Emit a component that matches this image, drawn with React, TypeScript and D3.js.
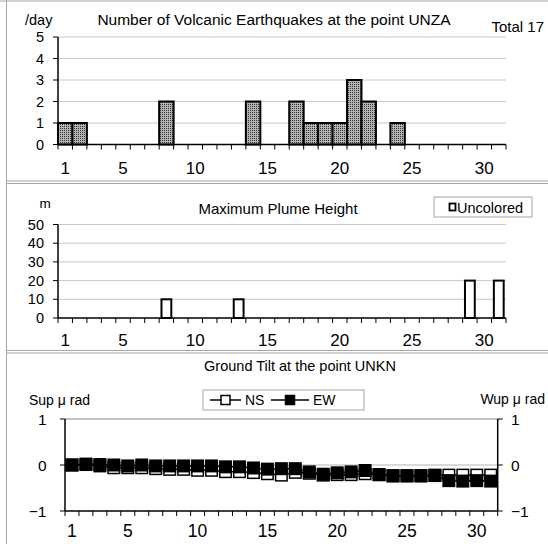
import React from "react";
import * as d3 from "d3";

const days: number[] = d3.range(1, 32);
const xTickLabels: number[] = [1, 5, 10, 15, 20, 25, 30];

const quakeCounts: number[] = [1, 1, 0, 0, 0, 0, 0, 2, 0, 0, 0, 0, 0, 2, 0, 0, 2, 1, 1, 1, 3, 2, 0, 1, 0, 0, 0, 0, 0, 0, 0];
const quakeTicks: number[] = [0, 1, 2, 3, 4, 5];

const plumeHeights: (number | null)[] = [null, null, null, null, null, null, null, 10, null, null, null, null, 10, null, null, null, null, null, null, null, null, null, null, null, null, null, null, null, 20, null, 20];
const plumeTicks: number[] = [0, 10, 20, 30, 40, 50];

const tiltNS: number[] = [0, 0.01, -0.02, -0.06, -0.06, -0.06, -0.08, -0.095, -0.095, -0.115, -0.115, -0.145, -0.145, -0.165, -0.19, -0.22, -0.16, -0.18, -0.22, -0.21, -0.21, -0.19, -0.21, -0.23, -0.23, -0.23, -0.22, -0.22, -0.22, -0.22, -0.22];
const tiltEW: number[] = [0, 0.02, 0.01, 0, -0.02, 0, -0.02, -0.02, -0.02, -0.02, -0.02, -0.04, -0.04, -0.065, -0.09, -0.08, -0.08, -0.15, -0.2, -0.17, -0.15, -0.12, -0.21, -0.24, -0.24, -0.24, -0.23, -0.34, -0.35, -0.34, -0.35];
const tiltTicks: number[] = [-1, 0, 1];

const FONT = "'Liberation Sans', Arial, sans-serif";
const FRAME = "#a6a6a6";
const GRID = "#c8c8c8";

function fmt(v: number) {
  return v < 0 ? "\u2212" + Math.abs(v) : String(v);
}

export default function App() {
  // Top panel
  const xTop = d3.scaleBand<number>().domain(days).range([58, 506]).padding(0);
  const yTop = d3.scaleLinear().domain([0, 5]).range([144.5, 37]);
  // Middle panel
  const xMid = d3.scaleBand<number>().domain(days).range([58, 506]).padding(0);
  const yMid = d3.scaleLinear().domain([0, 50]).range([318, 224.5]);
  // Bottom panel
  const xBot = d3.scaleBand<number>().domain(days).range([65, 497.7]).padding(0);
  const yBot = d3.scaleLinear().domain([-1, 1]).range([511, 419]);

  const bwTop = xTop.bandwidth();
  const bwMid = xMid.bandwidth();
  const bwBot = xBot.bandwidth();

  const lineTilt = d3
    .line<number>()
    .x((_, i) => (xBot(days[i]) as number) + bwBot / 2)
    .y((d) => yBot(d));

  const msz = 11.5;

  const boundaries = (sc: d3.ScaleBand<number>) =>
    d3.range(0, days.length + 1).map((i) => sc.range()[0] + i * sc.step());

  return (
    <svg width={548} height={544} style={{ position: "absolute", left: 0, top: 0 }} fontFamily={FONT}>
      <defs>
        <pattern id="dots" width={2} height={2} patternUnits="userSpaceOnUse">
          <rect width={2} height={2} fill="#b4b4b4" />
          <rect width={1} height={1} fill="#333" />
        </pattern>
      </defs>
      <rect x={0} y={0} width={548} height={544} fill="#fff" />
      {/* frame */}
      <line x1={0} x2={548} y1={1} y2={1} stroke={FRAME} strokeWidth={1} />
      <line x1={6.5} x2={6.5} y1={0} y2={544} stroke={FRAME} strokeWidth={1} />
      <line x1={6} x2={548} y1={181} y2={181} stroke={FRAME} strokeWidth={1} />
      <line x1={6} x2={548} y1={183.5} y2={183.5} stroke={FRAME} strokeWidth={1} />
      <line x1={6} x2={548} y1={350.5} y2={350.5} stroke={FRAME} strokeWidth={1} />
      <line x1={6} x2={548} y1={353} y2={353} stroke={FRAME} strokeWidth={1} />

      {/* ===== TOP PANEL ===== */}
      <text x={25} y={20} fontSize={14.5} dominantBaseline="central">/day</text>
      <text x={274} y={19} fontSize={15.5} textAnchor="middle" dominantBaseline="central">
        Number of Volcanic Earthquakes at the point UNZA
      </text>
      <text x={544} y={26} fontSize={15} textAnchor="end" dominantBaseline="central">Total 17</text>
      {quakeTicks.slice(1).map((t) => (
        <line key={"tg" + t} x1={58} x2={506} y1={yTop(t)} y2={yTop(t)} stroke={GRID} strokeWidth={1} />
      ))}
      {quakeTicks.map((t) => (
        <g key={"tt" + t}>
          <line x1={53} x2={58} y1={yTop(t)} y2={yTop(t)} stroke="#000" strokeWidth={1} />
          <text x={44} y={yTop(t)} fontSize={14.5} textAnchor="end" dominantBaseline="central">{t}</text>
        </g>
      ))}
      {quakeCounts.map((v, i) =>
        v > 0 ? (
          <rect
            key={"qb" + i}
            x={xTop(days[i]) as number}
            y={yTop(v)}
            width={bwTop}
            height={yTop(0) - yTop(v)}
            fill="url(#dots)"
            stroke="#000"
            strokeWidth={2}
          />
        ) : null
      )}
      <line x1={58} x2={58} y1={yTop(5)} y2={yTop(0)} stroke="#000" strokeWidth={1.5} />
      <line x1={58} x2={506} y1={yTop(0)} y2={yTop(0)} stroke="#000" strokeWidth={1.5} />
      {boundaries(xTop).map((x, i) => (
        <line key={"tx" + i} x1={x} x2={x} y1={yTop(0)} y2={yTop(0) + 5} stroke="#000" strokeWidth={1} />
      ))}
      {xTickLabels.map((d) => (
        <text key={"tl" + d} x={(xTop(d) as number) + bwTop / 2} y={168} fontSize={17} textAnchor="middle" dominantBaseline="central">
          {d}
        </text>
      ))}

      {/* ===== MIDDLE PANEL ===== */}
      <text x={45} y={203} fontSize={13.5} textAnchor="middle" dominantBaseline="central">m</text>
      <text x={278} y={208} fontSize={15} textAnchor="middle" dominantBaseline="central">Maximum Plume Height</text>
      <rect x={434} y={197} width={98} height={20} fill="#fff" stroke={FRAME} strokeWidth={1} />
      <rect x={449.5} y={203.5} width={6} height={7} fill="#fff" stroke="#000" strokeWidth={1.8} />
      <text x={457} y={207.5} fontSize={14.5} dominantBaseline="central">Uncolored</text>
      {plumeTicks.slice(1).map((t) => (
        <line key={"mg" + t} x1={58} x2={506} y1={yMid(t)} y2={yMid(t)} stroke={GRID} strokeWidth={1} />
      ))}
      {plumeTicks.map((t) => (
        <g key={"mt" + t}>
          <line x1={53} x2={58} y1={yMid(t)} y2={yMid(t)} stroke="#000" strokeWidth={1} />
          <text x={44} y={yMid(t)} fontSize={14.5} textAnchor="end" dominantBaseline="central">{t}</text>
        </g>
      ))}
      {plumeHeights.map((v, i) =>
        v != null && v > 0 ? (
          <rect
            key={"pb" + i}
            x={(xMid(days[i]) as number) + bwMid * 0.16}
            y={yMid(v)}
            width={bwMid * 0.68}
            height={yMid(0) - yMid(v)}
            fill="#fff"
            stroke="#000"
            strokeWidth={2}
          />
        ) : null
      )}
      <line x1={58} x2={58} y1={yMid(50)} y2={yMid(0)} stroke="#000" strokeWidth={1.5} />
      <line x1={58} x2={506} y1={yMid(0)} y2={yMid(0)} stroke="#000" strokeWidth={1.5} />
      {boundaries(xMid).map((x, i) => (
        <line key={"mx" + i} x1={x} x2={x} y1={yMid(0)} y2={yMid(0) + 5} stroke="#000" strokeWidth={1} />
      ))}
      {xTickLabels.map((d) => (
        <text key={"ml" + d} x={(xMid(d) as number) + bwMid / 2} y={340} fontSize={17} textAnchor="middle" dominantBaseline="central">
          {d}
        </text>
      ))}

      {/* ===== BOTTOM PANEL ===== */}
      <text x={300} y={366} fontSize={14.5} textAnchor="middle" dominantBaseline="central">Ground Tilt at the point UNKN</text>
      <text x={29} y={400} fontSize={14} dominantBaseline="central">Sup μ rad</text>
      <text x={545} y={399} fontSize={14} textAnchor="end" dominantBaseline="central">Wup μ rad</text>
      <rect x={203} y={390} width={161} height={20} fill="#fff" stroke={FRAME} strokeWidth={1} />
      <line x1={210} x2={241} y1={400} y2={400} stroke="#000" strokeWidth={1.5} />
      <rect x={221} y={395.5} width={9} height={9} fill="#fff" stroke="#000" strokeWidth={1.5} />
      <text x={245} y={400} fontSize={14} dominantBaseline="central">NS</text>
      <line x1={271} x2={309} y1={400} y2={400} stroke="#000" strokeWidth={1.5} />
      <rect x={285.5} y={395.5} width={9} height={9} fill="#000" stroke="#000" strokeWidth={1.5} />
      <text x={313} y={400} fontSize={14} dominantBaseline="central">EW</text>

      <line x1={65} x2={497.7} y1={yBot(1)} y2={yBot(1)} stroke="#888" strokeWidth={1} />
      <line x1={65} x2={497.7} y1={yBot(0)} y2={yBot(0)} stroke="#b4b4b4" strokeWidth={1} />
      {tiltTicks.map((t) => (
        <g key={"bt" + t}>
          <line x1={60} x2={65} y1={yBot(t)} y2={yBot(t)} stroke="#000" strokeWidth={1} />
          <line x1={497.7} x2={502.7} y1={yBot(t)} y2={yBot(t)} stroke="#000" strokeWidth={1} />
          <text x={46.5} y={yBot(t)} fontSize={15.5} textAnchor="end" dominantBaseline="central">{fmt(t)}</text>
          <text x={511} y={yBot(t)} fontSize={15.5} textAnchor="start" dominantBaseline="central">{fmt(t)}</text>
        </g>
      ))}
      <line x1={65} x2={65} y1={yBot(1)} y2={yBot(-1)} stroke="#000" strokeWidth={1.5} />
      <line x1={497.7} x2={497.7} y1={yBot(1)} y2={yBot(-1)} stroke="#000" strokeWidth={1.5} />
      <line x1={65} x2={497.7} y1={yBot(-1)} y2={yBot(-1)} stroke="#000" strokeWidth={1.5} />
      {boundaries(xBot).map((x, i) => (
        <line key={"bx" + i} x1={x} x2={x} y1={yBot(-1)} y2={yBot(-1) + 5} stroke="#000" strokeWidth={1} />
      ))}
      {xTickLabels.map((d) => (
        <text key={"bl" + d} x={(xBot(d) as number) + bwBot / 2} y={531} fontSize={17.5} textAnchor="middle" dominantBaseline="central">
          {d}
        </text>
      ))}
      <path d={lineTilt(tiltNS) || ""} fill="none" stroke="#000" strokeWidth={1.5} />
      {tiltNS.map((v, i) => (
        <rect
          key={"ns" + i}
          x={(xBot(days[i]) as number) + bwBot / 2 - msz / 2}
          y={yBot(v) - msz / 2}
          width={msz}
          height={msz}
          fill="#fff"
          stroke="#000"
          strokeWidth={1.5}
        />
      ))}
      <path d={lineTilt(tiltEW) || ""} fill="none" stroke="#000" strokeWidth={1.5} />
      {tiltEW.map((v, i) => (
        <rect
          key={"ew" + i}
          x={(xBot(days[i]) as number) + bwBot / 2 - msz / 2}
          y={yBot(v) - msz / 2}
          width={msz}
          height={msz}
          fill="#000"
          stroke="#000"
          strokeWidth={1.5}
        />
      ))}
    </svg>
  );
}
